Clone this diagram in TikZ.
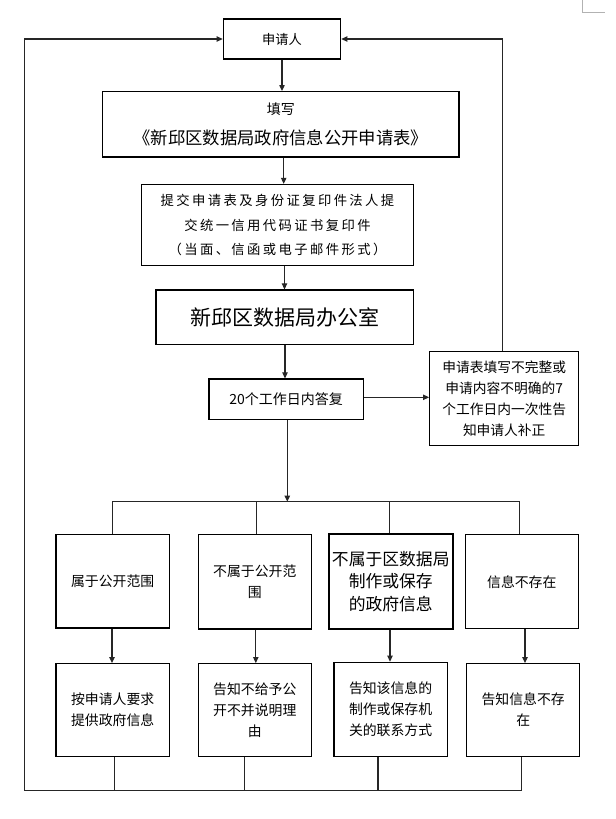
\documentclass[tikz,border=0pt]{standalone}
\usepackage{fontspec}
\setmainfont{Noto Sans CJK SC}
\usetikzlibrary{arrows.meta,calc}
\begin{document}
\begin{tikzpicture}[x=0.75pt,y=-0.75pt,
  box/.style={draw=black,line width=0.9pt,rectangle,inner sep=0pt,align=center,anchor=center},
  wh/.style 2 args={minimum width=#1*0.75pt,minimum height=#2*0.75pt},
  small/.style={font={\fontsize{10.4pt}{15.75pt}\selectfont}},
  conn/.style={draw=black!85,line width=0.8pt},
  arr/.style={conn,-{Triangle[length=4.5pt,width=4pt]}},
  ]
\useasboundingbox (0,0) rectangle (616,819);
\fill[white] (0,0) rectangle (616,819);
\draw[black!30,line width=0.5pt] (582,0) -- (582,12) -- (605,12);

% main column
\node[box,wh={117.4}{40},font={\fontsize{9.9pt}{12pt}\selectfont}] (app) at (282,39) {申请人};
\node[box,wh={356.3}{65.3},font={\fontsize{13pt}{22.5pt}\selectfont}] (fill) at (280.9,124.3)
  {{\fontsize{10.5pt}{22.5pt}\selectfont 填写}\\《新邱区数据局政府信息公开申请表》};
\node[box,wh={272}{81.2},font={\fontsize{10pt}{18.4pt}\selectfont\addfontfeature{LetterSpace=18}}] (submit) at (277.5,225.1)
  {提交申请表及身份证复印件法人提\\交统一信用代码证书复印件\\（当面、信函或电子邮件形式）};
\node[box,wh={257.7}{54.3},font={\fontsize{15.75pt}{18pt}\selectfont}] (office) at (284.9,317.2)
  {\raisebox{-4.5pt}{新邱区数据局办公室}};
\node[box,wh={154.3}{40.3},font={\fontsize{10.5pt}{12pt}\selectfont}] (reply) at (286.2,399.2) {20个工作日内答复};
\node[box,wh={149}{94.4},font={\fontsize{10.3pt}{15.75pt}\selectfont}] (notify) at (504.2,398.5)
  {申请表填写不完整或\\申请内容不明确的7\\个工作日内一次性告\\知申请人补正};

% first row
\node[box,small,wh={113.4}{93.5}] (t1) at (112.7,581.2) {属于公开范围};
\node[box,small,wh={112.8}{94.3}] (t2) at (254.8,581.8) {不属于公开范\\围};
\node[box,wh={124.5}{94.7},line width=1.5pt,font={\fontsize{12.6pt}{16.9pt}\selectfont}] (t3) at (390.75,581.3)
  {不属于区数据局\\制作或保存\\的政府信息};
\node[box,small,wh={113}{94}] (t4) at (521.8,581.7) {信息不存在};

% second row
\node[box,small,wh={113.4}{92.8}] (b1) at (112.7,710.1) {按申请人要求\\提供政府信息};
\node[box,small,wh={112.8}{92.8}] (b2) at (254.8,710.1) {告知不给予公\\开不并说明理\\由};
\node[box,small,wh={113.2}{94.2}] (b3) at (390.6,709.4) {告知该信息的\\制作或保存机\\关的联系方式};
\node[box,small,wh={113}{92.8}] (b4) at (523.2,710.1) {告知信息不存\\在};

% helper coordinates
\coordinate (bus) at (0,501.7);
\coordinate (base) at (0,790.7);
\coordinate (lx) at (24.3,0);
\coordinate (rx) at (502.5,0);
\coordinate (ay) at (0,397.3);
\coordinate (a2) at (283.7,0);
\coordinate (a3) at (284.5,0);
\coordinate (a4) at (285,0);
\coordinate (a5) at (287.3,0);
\coordinate (d1) at (112.4,0);
\coordinate (d2) at (256.6,0);
\coordinate (d3) at (389.4,0);
\coordinate (d4) at (519.8,0);
\coordinate (e1) at (112,0);
\coordinate (e2) at (255.8,0);
\coordinate (e3) at (390,0);
\coordinate (e4) at (525,0);
\coordinate (f1) at (114.7,0);
\coordinate (f2) at (244.8,0);
\coordinate (f3) at (378,0);
\coordinate (f4) at (521.4,0);

% main flow
\draw[arr] (app.south) -- (app.south |- fill.north);
\draw[arr] (a2 |- fill.south) -- (a2 |- submit.north);
\draw[arr] (a3 |- submit.south) -- (a3 |- office.north);
\draw[arr] (a4 |- office.south) -- (a4 |- reply.north);
\draw[arr] (a5 |- reply.south) -- (a5 |- bus);
\draw[arr] (reply.east |- ay) -- (notify.west |- ay);
\draw[arr] (rx |- notify.north) -- (rx |- app.east) -- (app.east);

% distribution bus
\draw[conn] (d1 |- t1.north) -- (d1 |- bus) -- (d4 |- bus) -- (d4 |- t4.north);
\draw[conn] (d2 |- bus) -- (d2 |- t2.north);
\draw[conn] (d3 |- bus) -- (d3 |- t3.north);

% row to row
\draw[arr] (e1 |- t1.south) -- (e1 |- b1.north);
\draw[arr] (e2 |- t2.south) -- (e2 |- b2.north);
\draw[arr] (e3 |- t3.south) -- (e3 |- b3.north);
\draw[arr] (e4 |- t4.south) -- (e4 |- b4.north);

% return to applicant
\draw[arr] (f4 |- b4.south) -- (f4 |- base) -- (lx |- base) -- (lx |- app.west) -- (app.west);
\draw[conn] (f1 |- b1.south) -- (f1 |- base);
\draw[conn] (f2 |- b2.south) -- (f2 |- base);
\draw[conn] (f3 |- b3.south) -- (f3 |- base);
\end{tikzpicture}
\end{document}
